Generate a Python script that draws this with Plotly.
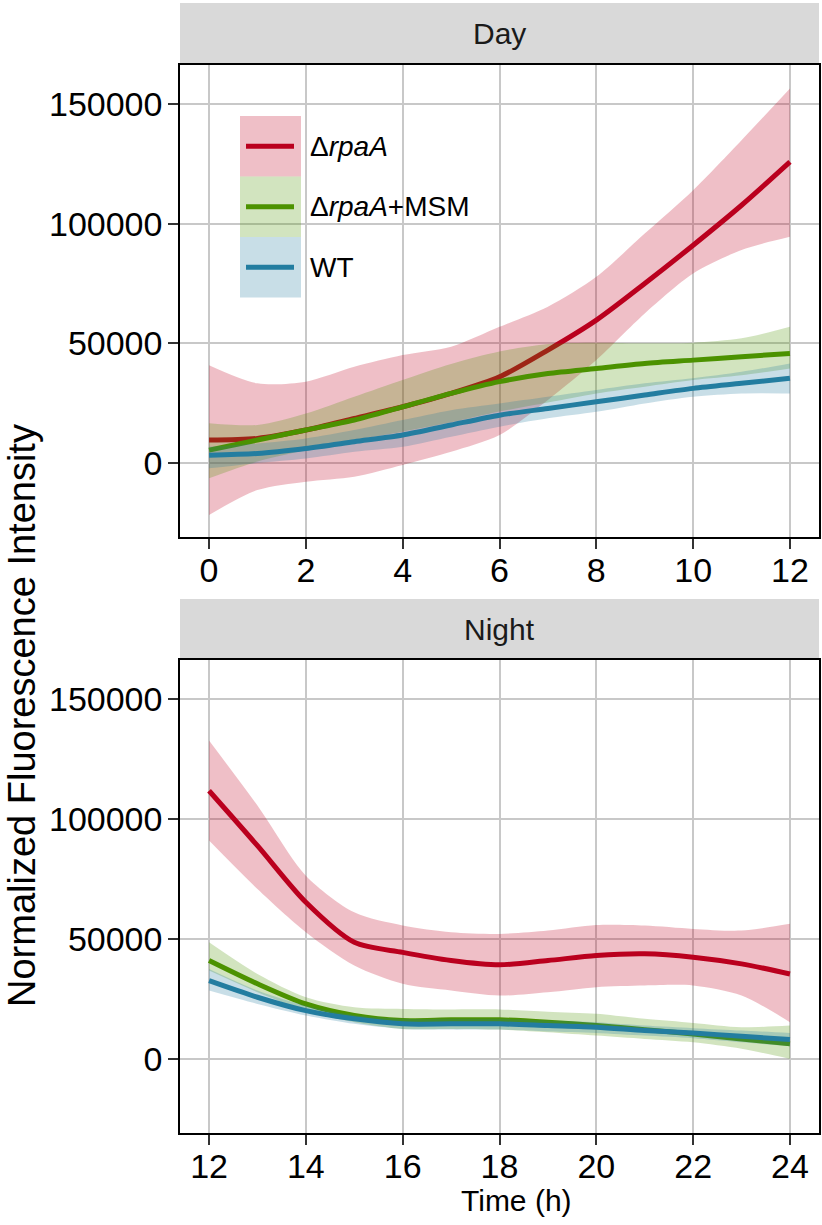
import plotly.graph_objects as go

# ---------------- data ----------------
series_names = ["\u0394<i>rpaA</i>", "\u0394<i>rpaA</i>+MSM", "WT"]

day_time = [0, 1, 2, 3, 4, 5, 6, 7, 8, 9, 10, 11, 12]
day_rpaA = [9600, 10300, 13800, 18600, 23500, 29100, 36000, 47200, 59700, 75000, 91000, 107700, 125800]
day_rpaA_hi = [40900, 33300, 34000, 40200, 45100, 48600, 56900, 65300, 77800, 95900, 114000, 134900, 156500]
day_rpaA_lo = [-21700, -11300, -7800, -5700, -800, 4700, 11700, 26300, 43000, 62500, 79200, 89000, 94500]
day_msm = [5400, 9600, 13800, 18000, 23500, 29100, 34000, 37400, 39500, 41600, 43000, 44400, 45800]
day_msm_hi = [16600, 15900, 20700, 27700, 34700, 41400, 46600, 49700, 50300, 50000, 50300, 52100, 56900]
day_msm_lo = [-6400, 600, 5400, 9600, 13100, 17000, 21500, 25300, 29100, 31900, 34700, 36700, 39500]
day_wt = [3300, 4000, 6100, 8900, 11700, 15900, 20000, 22800, 25600, 28400, 31200, 33300, 35400]
day_wt_hi = [6800, 8200, 10300, 13800, 18000, 22100, 24900, 27700, 30500, 33300, 35400, 38100, 41600]
day_wt_lo = [-2200, 0, 1900, 4700, 6800, 11000, 15200, 18700, 21400, 24900, 27700, 29100, 29100]

night_time = [12, 13, 14, 15, 16, 17, 18, 19, 20, 21, 22, 23, 24]
night_rpaA = [111800, 88900, 65300, 48600, 44400, 41000, 39200, 41000, 43100, 43800, 42400, 39600, 35400]
night_rpaA_hi = [132700, 105600, 76400, 61100, 55600, 52800, 52100, 53500, 55800, 55600, 54200, 53500, 56300]
night_rpaA_lo = [91000, 70800, 52800, 38900, 31300, 28500, 26400, 27800, 29900, 30600, 30600, 26400, 15300]
night_msm = [41000, 31300, 22900, 18100, 16000, 16300, 16300, 15300, 13900, 12200, 10400, 8300, 6300]
night_msm_hi = [48600, 35400, 25700, 21500, 20800, 20600, 20600, 19700, 18800, 16700, 15000, 13200, 13900]
night_msm_lo = [36800, 27800, 20100, 15300, 12500, 12500, 12200, 11100, 9700, 8300, 6900, 4200, 0]
night_wt = [32600, 25700, 20100, 16700, 14600, 14600, 14600, 13900, 13200, 11800, 10800, 9400, 8100]
night_wt_hi = [37500, 28500, 22200, 18300, 16700, 16700, 16700, 16000, 15300, 13900, 12800, 11800, 10800]
night_wt_lo = [28500, 22900, 18100, 14600, 12500, 12200, 12200, 11400, 10800, 9700, 8600, 6900, 5300]

y_tickvals = [0, 50000, 100000, 150000]
y_ticktext = ["0", "50000", "100000", "150000"]
day_xticks = [0, 2, 4, 6, 8, 10, 12]
night_xticks = [12, 14, 16, 18, 20, 22, 24]
panel_titles = ["Day", "Night"]

# ---------------- style ----------------
line_colors = ["#BA001E", "#4C9200", "#237DA0"]
band_colors = ["rgba(190,0,30,0.25)", "rgba(77,146,0,0.25)", "rgba(35,125,160,0.25)"]
FONT = "Liberation Sans, Arial, Helvetica, sans-serif"
W, H = 822, 1225

def px(x):
    return x / W

def py(y):
    return 1 - y / H

fig = go.Figure()

panels = [
    ("x", "y", day_time, [(day_rpaA, day_rpaA_lo, day_rpaA_hi), (day_msm, day_msm_lo, day_msm_hi), (day_wt, day_wt_lo, day_wt_hi)]),
    ("x2", "y2", night_time, [(night_rpaA, night_rpaA_lo, night_rpaA_hi), (night_msm, night_msm_lo, night_msm_hi), (night_wt, night_wt_lo, night_wt_hi)]),
]

for xa, ya, t, groups in panels:
    for i, (mid, lo, hi) in enumerate(groups):
        fig.add_trace(go.Scatter(
            x=t, y=lo, mode="lines", line=dict(width=0, shape="spline", smoothing=0.8),
            hoverinfo="skip", showlegend=False, xaxis=xa, yaxis=ya))
        fig.add_trace(go.Scatter(
            x=t, y=hi, mode="lines", fill="tonexty", fillcolor=band_colors[i],
            line=dict(width=0, shape="spline", smoothing=0.8),
            hoverinfo="skip", showlegend=False, xaxis=xa, yaxis=ya))
        fig.add_trace(go.Scatter(
            x=t, y=mid, mode="lines", name=series_names[i],
            line=dict(color=line_colors[i], width=5, shape="spline", smoothing=0.8),
            showlegend=False, xaxis=xa, yaxis=ya))

yrange = [-30900, 166300]
axis_common = dict(showline=True, linecolor="black", linewidth=1.5, mirror=True,
                   showgrid=True, gridcolor="#C8C8C8", gridwidth=1.5, zeroline=False,
                   ticks="outside", ticklen=10, tickwidth=2, tickcolor="#333333",
                   tickfont=dict(family=FONT, size=34, color="black"))

fig.update_layout(
    width=W, height=H, margin=dict(l=0, r=0, t=0, b=0),
    paper_bgcolor="white", plot_bgcolor="white", showlegend=False,
    xaxis=dict(domain=[px(180), px(819)], range=[-0.6, 12.6], anchor="y",
               tickvals=day_xticks, ticklabelstandoff=-8, **axis_common),
    yaxis=dict(domain=[py(537), py(65)], range=yrange, anchor="x",
               tickvals=y_tickvals, ticktext=y_ticktext, ticklabelstandoff=-1, **axis_common),
    xaxis2=dict(domain=[px(180), px(819)], range=[11.4, 24.6], anchor="y2",
                tickvals=night_xticks, ticklabelstandoff=-8, **axis_common),
    yaxis2=dict(domain=[py(1133), py(660)], range=yrange, anchor="x2",
                tickvals=y_tickvals, ticktext=y_ticktext, ticklabelstandoff=-1, **axis_common),
)

shapes = []
annotations = []
# facet strips
for (top, bot), title in zip([(3, 64), (599, 660)], panel_titles):
    shapes.append(dict(type="rect", xref="paper", yref="paper", x0=px(180), x1=px(819),
                       y0=py(bot), y1=py(top), fillcolor="#D9D9D9", line=dict(width=0), layer="below"))
    annotations.append(dict(text=title, xref="paper", yref="paper", x=px(499.5), y=py((top + bot) / 2),
                            showarrow=False, xanchor="center", yanchor="middle",
                            font=dict(family=FONT, size=30, color="#1a1a1a")))

# legend (manual, ggplot style keys)
key_top = 116
key_h = 60.5
for i, name in enumerate(series_names):
    y0 = key_top + i * key_h
    shapes.append(dict(type="rect", xref="paper", yref="paper", x0=px(240), x1=px(301),
                       y0=py(y0 + key_h), y1=py(y0), fillcolor=band_colors[i], line=dict(width=0)))
    shapes.append(dict(type="line", xref="paper", yref="paper", x0=px(246), x1=px(294),
                       y0=py(y0 + key_h / 2), y1=py(y0 + key_h / 2),
                       line=dict(color=line_colors[i], width=5)))
    annotations.append(dict(text=name, xref="paper", yref="paper", x=px(308), y=py(y0 + key_h / 2),
                            showarrow=False, xanchor="left", yanchor="middle",
                            font=dict(family=FONT, size=28, color="black")))

# axis titles
annotations.append(dict(text="Time (h)", xref="paper", yref="paper", x=px(516), y=py(1200),
                        showarrow=False, xanchor="center", yanchor="middle",
                        font=dict(family=FONT, size=30, color="black")))
annotations.append(dict(text="Normalized Fluorescence Intensity", xref="paper", yref="paper",
                        x=px(22), y=py(716), textangle=-90, showarrow=False,
                        xanchor="center", yanchor="middle",
                        font=dict(family=FONT, size=38, color="black")))

fig.update_layout(shapes=shapes, annotations=annotations)
fig.write_html("out.html", config={"displayModeBar": False},
               post_script="document.body.style.margin='0';document.body.style.overflow='hidden';")
